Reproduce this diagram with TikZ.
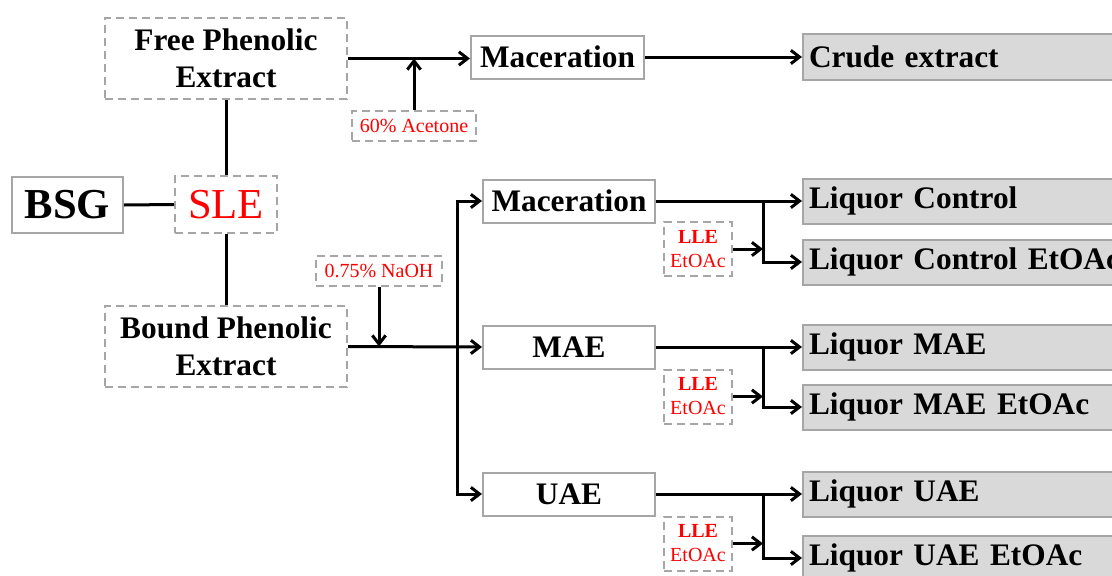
\documentclass[tikz,border=0pt]{standalone}
\usepackage{fontspec}
\setmainfont{Liberation Serif}
\usetikzlibrary{arrows.meta}
\definecolor{bordergray}{HTML}{A6A6A6}
\definecolor{fillgray}{HTML}{D9D9D9}
\begin{document}
\begin{tikzpicture}[x=0.75pt,y=-0.75pt,
 box/.style={draw=bordergray, line width=1.5pt, inner sep=0pt, align=center},
 dbox/.style={box, dash pattern=on 6pt off 3.75pt},
 outbox/.style={box, fill=fillgray, anchor=west, minimum height=45*0.75pt, text width=316*0.75pt, align=left, inner xsep=6*0.75pt, big},
 conn/.style={line width=2.25pt},
 arr/.style={conn, -{Straight Barb[length=6.5pt,width=10pt]}},
 big/.style={font=\fontsize{23.5}{28}\selectfont\bfseries},
 huge/.style={font=\fontsize{32}{36}\selectfont},
 small/.style={font=\fontsize{15}{18}\selectfont, text=red},
]
\useasboundingbox (0,0) rectangle (1112,575);
\clip (0,0) rectangle (1112,575);
% left part
\node[box, font=\fontsize{32}{36}\selectfont\bfseries, minimum width=111*0.75pt, minimum height=56*0.75pt] (bsg) at (67.5,205) {BSG};
\node[dbox, huge, text=red, minimum width=102*0.75pt, minimum height=57*0.75pt] (sle) at (226,204.5) {SLE};
\node[dbox, big, minimum width=242*0.75pt, minimum height=81*0.75pt] (free) at (226,58.5) {Free Phenolic\\Extract};
\node[dbox, big, minimum width=242*0.75pt, minimum height=81*0.75pt] (bound) at (226,346.5) {Bound Phenolic\\Extract};
% top branch
\node[box, big, minimum width=173*0.75pt, minimum height=43*0.75pt] (mac1) at (557.5,57) {Maceration};
\node[dbox, small, minimum width=124*0.75pt, minimum height=30*0.75pt] (acet) at (414,126) {60\% Acetone};
\node[outbox, minimum height=46*0.75pt] (crude) at (802,57) {Crude extract};
% bound branch
\node[dbox, small, minimum width=126*0.75pt, minimum height=30*0.75pt] (naoh) at (379,271) {0.75\% NaOH};
\node[box, big, minimum width=172*0.75pt, minimum height=43*0.75pt] (mac2) at (569,201) {Maceration};
\node[box, big, minimum width=172*0.75pt, minimum height=43*0.75pt] (mae) at (569,347) {MAE};
\node[box, big, minimum width=172*0.75pt, minimum height=43*0.75pt] (uae) at (569,494) {UAE};
% LLE boxes
\node[dbox, small, minimum width=68*0.75pt, minimum height=54*0.75pt] (lle1) at (698,249) {\textbf{LLE}\\EtOAc};
\node[dbox, small, minimum width=68*0.75pt, minimum height=54*0.75pt] (lle2) at (698,396.5) {\textbf{LLE}\\EtOAc};
\node[dbox, small, minimum width=68*0.75pt, minimum height=54*0.75pt] (lle3) at (698,543.5) {\textbf{LLE}\\EtOAc};
% outputs
\node[outbox] (lc) at (802,201) {Liquor Control};
\node[outbox] (lce) at (802,262) {Liquor Control EtOAc};
\node[outbox] (lm) at (802,347) {Liquor MAE};
\node[outbox] (lme) at (802,407) {Liquor MAE EtOAc};
\node[outbox] (lu) at (802,494) {Liquor UAE};
\node[outbox] (lue) at (802,558) {Liquor UAE EtOAc};
% coordinates
\coordinate (tx) at (457,0);
\coordinate (bx) at (763,0);
% connectors
\draw[conn] (bsg.east) -- (sle.west);
\draw[conn] (sle.north) -- (free.south);
\draw[conn] (sle.south) -- (bound.north);
\draw[arr] (free.east) -- (mac1.west |- free.east);
\draw[arr] (acet.north) -- (acet.north |- free.east);
\draw[arr] (mac1.east) -- (crude.west);
\draw[arr] (bound.east) -- (mae.west);
\draw[arr] (naoh.south) -- (naoh.south |- bound.east);
\draw[arr] (tx |- mae.west) |- (mac2.west);
\draw[arr] (tx |- mae.west) |- (uae.west);
% right side
\draw[arr] (mac2.east) -- (lc.west);
\draw[arr] (bx |- mac2.east) |- (lce.west);
\draw[arr] (lle1.east) -- (lle1.east -| bx);
\draw[arr] (mae.east) -- (lm.west);
\draw[arr] (bx |- mae.east) |- (lme.west);
\draw[arr] (lle2.east) -- (lle2.east -| bx);
\draw[arr] (uae.east) -- (lu.west);
\draw[arr] (bx |- uae.east) |- (lue.west);
\draw[arr] (lle3.east) -- (lle3.east -| bx);
\end{tikzpicture}
\end{document}
